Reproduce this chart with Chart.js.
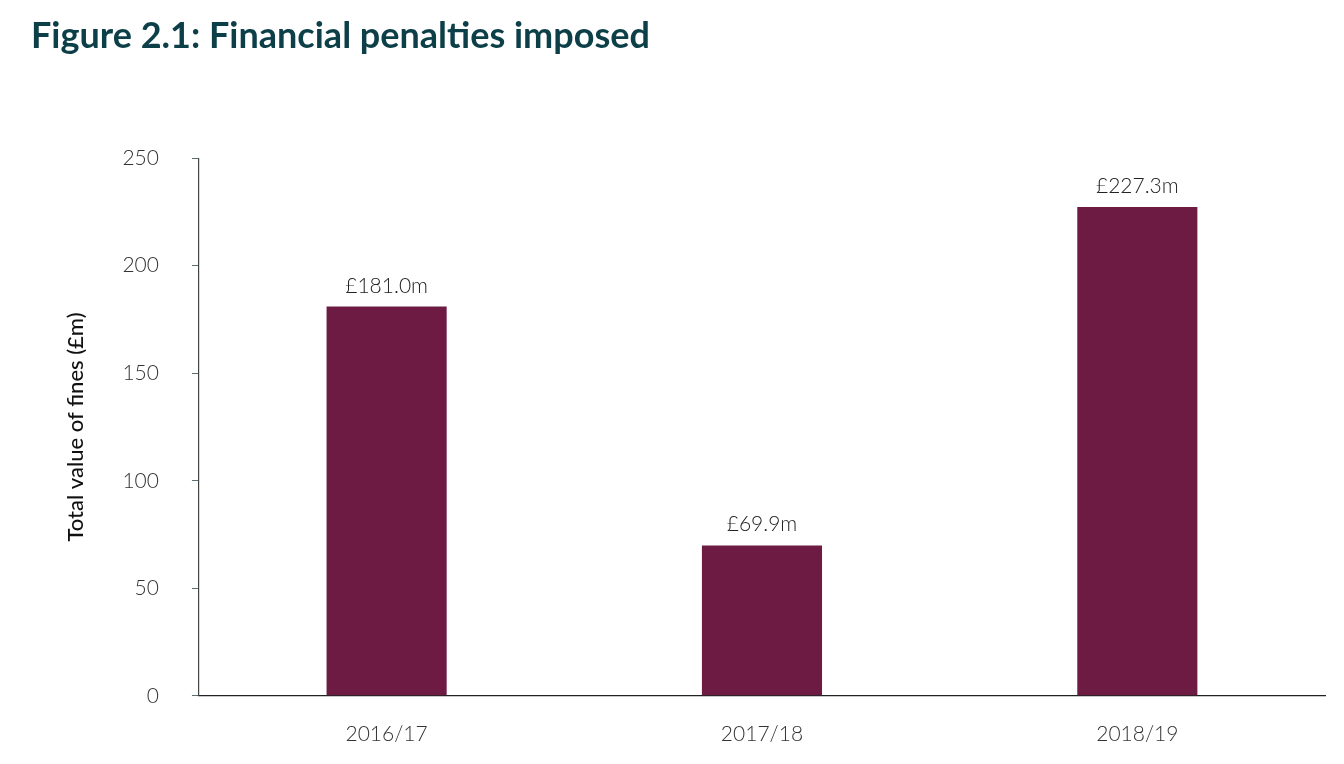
<!DOCTYPE html>
<html>
<head>
<meta charset="utf-8">
<script src="https://cdn.jsdelivr.net/npm/chart.js@4"></script>
<style>
  html, body { margin: 0; padding: 0; background: #fff; overflow: hidden; }
  #wrap { width: 1344px; height: 764px; position: relative; }
  canvas { display: block; }
</style>
</head>
<body>
<div id="wrap"><canvas id="finesChart"></canvas></div>
<script>
var years = ['2016/17', '2017/18', '2018/19'];
var fines = [181.0, 69.9, 227.3];
var fineLabels = ['£181.0m', '£69.9m', '£227.3m'];

// draws the £ value above each bar
var valueLabels = {
    id: 'valueLabels',
    afterDatasetsDraw: function (chart) {
        var ctx = chart.ctx;
        var meta = chart.getDatasetMeta(0);
        ctx.save();
        ctx.font = '300 21px Lato';
        ctx.fillStyle = '#222';
        ctx.textAlign = 'center';
        ctx.textBaseline = 'alphabetic';
        meta.data.forEach(function (bar, i) {
            ctx.fillText(fineLabels[i], bar.x, bar.y - 14);
        });
        ctx.restore();
    }
};

var ctx = document.getElementById('finesChart').getContext('2d');
var myChart = new Chart(ctx, {
    type: 'bar',
    plugins: [valueLabels],
    data: {
        labels: years,
        datasets: [{
            label: 'Total value of fines (£m)',
            data: fines,
            backgroundColor: '#6d1b43',
            borderWidth: 0,
            categoryPercentage: 1,
            barPercentage: 0.32
        }]
    },
    options: {
        responsive: true,
        maintainAspectRatio: false,
        animation: false,
        layout: {
            padding: { left: 31, right: 19, top: 0, bottom: -9 }
        },
        plugins: {
            legend: { display: false },
            tooltip: { enabled: false },
            title: {
                display: true,
                text: 'Figure 2.1: Financial penalties imposed',
                align: 'start',
                color: '#0c3f47',
                font: { family: 'Lato', size: 36, weight: 'bold' },
                padding: { top: 15, bottom: 100 }
            }
        },
        scales: {
            x: {
                grid: { display: true, drawOnChartArea: false, drawTicks: false },
                border: { display: true, color: '#222', width: 1.3 },
                ticks: {
                    color: '#333',
                    font: { family: 'Lato', size: 21, weight: '300' },
                    padding: 26
                }
            },
            y: {
                min: 0,
                max: 250,
                grid: { display: true, drawOnChartArea: false, drawTicks: true, tickLength: 7, color: '#5d6d73' },
                border: { display: true, color: '#444', width: 1.2 },
                ticks: {
                    stepSize: 50,
                    color: '#333',
                    font: { family: 'Lato', size: 21, weight: '300' },
                    padding: 33
                },
                title: {
                    display: true,
                    text: 'Total value of fines (£m)',
                    color: '#111',
                    font: { family: 'Lato', size: 22, weight: '500' },
                    padding: { top: 32, bottom: 0 }
                }
            }
        }
    }
});
</script>
</body>
</html>
